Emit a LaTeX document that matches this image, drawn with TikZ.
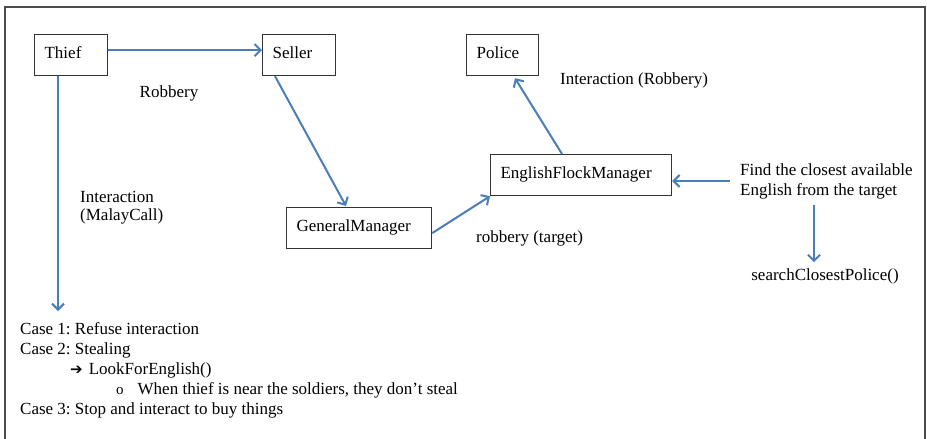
\documentclass[tikz,border=0pt]{standalone}
\usepackage{fontspec}
\setmainfont{Liberation Serif}
\newfontfamily\symfont{DejaVu Sans}
\usetikzlibrary{calc,arrows.meta,positioning}
\definecolor{linkblue}{RGB}{74,126,187}
\frenchspacing
\tikzstyle{box} = [draw=black!80, line width=1.2pt, rectangle, anchor=north west, inner xsep=10pt, minimum height=41pt, text height=12pt, text depth=6pt, align=left, font=\fontsize{17}{18}\selectfont]
\tikzstyle{arrow} = [linkblue, line width=2pt, -{Straight Barb[length=6pt,width=12pt,line width=2pt]}]
\tikzstyle{lbl} = [align=left, inner sep=0pt, font=\fontsize{17}{20}\selectfont]

\begin{document}
\begin{tikzpicture}[x=1pt,y=-1pt]
\useasboundingbox (0,0) rectangle (927,439);
\draw [black!70, line width=1.5pt] (5,439) -- (5,7) -- (925,7) -- (925,439);

\coordinate (TH) at (34,34);
\coordinate (SE) at (262,34);
\coordinate (PO) at (466,34);
\coordinate (EF) at (490,154);
\coordinate (GM) at (286,207);

\node [box, text width=53pt]  (thief)  at (TH) {Thief};
\node [box, text width=53pt]  (seller) at (SE) {Seller};
\node [box, text width=52pt]  (police) at (PO) {Police};
\node [box, text width=161pt] (efm)    at (EF) {EnglishFlockManager};
\node [box, text width=125pt] (gm)     at (GM) {GeneralManager};

\node [lbl] (robbery) at (169,93) {Robbery};
\node [lbl, anchor=west, font=\fontsize{17}{18}\selectfont] (malay) at (80,208) {Interaction\\(MalayCall)};
\node [lbl, anchor=west] (interrob) at (560,80) {Interaction (Robbery)};
\node [lbl, anchor=west] (target) at (476,238) {robbery (target)};
\node [lbl, anchor=west] (find) at (740,181) {Find the closest available\\English from the target};
\node [lbl] (search) at (825,276) {searchClosestPolice()};
\node [lbl, anchor=north west] (cases) at (20,322) {Case 1: Refuse interaction\\
Case 2: Stealing\\
\hspace*{50pt}{\symfont\fontsize{15}{20}\selectfont ➔}\hspace{6pt}LookForEnglish()\\
\hspace*{96pt}{\fontsize{15}{20}\selectfont o}\hspace{14pt}When thief is near the soldiers, they don't steal\\
Case 3: Stop and interact to buy things};
\coordinate (casetop) at (58,311);
\coordinate (downx) at (814,0);

\draw [arrow] ($(thief.east)+(0,-5)$) -- ($(seller.west)+(0,-5)$);
\draw [arrow] ($(thief.south west)+(24,0)$) -- (casetop);
\draw [arrow] ($(seller.south west)+(13,0)$) -- ($(gm.north west)+(60,-1)$);
\draw [arrow] ($(gm.east)+(0,5)$) -- (efm.south west);
\draw [arrow] ($(efm.north west)+(72,0)$) -- ($(police.south west)+(49,2)$);
\draw [arrow] (730,181) -- (efm.east |- 0,181);
\draw [arrow, shorten <=6pt, shorten >=6pt] (downx |- find.south) -- (downx |- search.north);
\end{tikzpicture}
\end{document}
